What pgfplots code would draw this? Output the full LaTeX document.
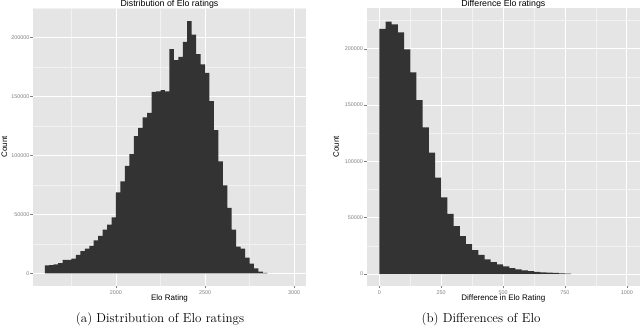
\documentclass[border=0pt]{standalone}
\usepackage{pgfplots}
\pgfplotsset{compat=1.18}
\usepackage{fontspec}
\newfontfamily\chartfont{Liberation Sans}
\definecolor{ggbg}{HTML}{E5E5E5}
\definecolor{ggminor}{HTML}{F2F2F2}
\definecolor{ggbar}{HTML}{333333}
\definecolor{ggtext}{HTML}{7F7F7F}
\pgfplotsset{
  every axis title/.style={at={(axis description cs:0.5,1)}, anchor=base, yshift=1.5pt, font=\chartfont\fontsize{8.8}{10}\selectfont},
  ggstyle/.style={
    scale only axis,
    anchor=south west,
    axis background/.style={fill=ggbg},
    axis line style={draw=none},
    tick align=outside,
    xtick pos=left, ytick pos=left,
    major tick length=2.5pt,
    minor tick length=0pt,
    tick style={color=ggtext, line width=0.5pt},
    grid=both,
    major grid style={white, line width=0.9pt},
    minor grid style={ggminor, line width=0.45pt},
    scaled y ticks=false, scaled x ticks=false,
    /pgf/number format/fixed,
    /pgf/number format/precision=0,
    /pgf/number format/1000 sep={},
    /pgf/number format/assume math mode=true,
    ticklabel style={font=\chartfont\fontsize{5.4}{6}\selectfont, color=ggtext, inner sep=1pt},
    xticklabel style={yshift=-0.8pt},
    xlabel style={font=\chartfont\fontsize{8}{9}\selectfont, at={(axis description cs:0.5,0)}, anchor=center, yshift=-12.5pt},
    ylabel style={font=\chartfont\fontsize{8}{9}\selectfont, anchor=center},
  }
}
\pgfplotstableread{
x y
1600 6600
1625 6800
1650 7600
1675 8500
1700 11300
1725 11300
1750 12500
1775 15500
1800 18800
1825 21000
1850 23300
1875 27800
1900 31800
1925 37000
1950 41300
1975 47400
2000 68600
2025 78000
2050 91000
2075 101000
2100 116300
2125 123400
2150 132200
2175 136100
2200 153900
2225 154200
2250 155300
2275 154200
2300 190100
2325 180800
2350 183600
2375 196300
2400 213800
2425 202500
2450 185900
2475 177100
2500 170000
2525 146000
2550 121400
2575 95000
2600 74500
2625 55400
2650 37000
2675 22600
2700 20800
2725 13300
2750 8200
2775 4200
2800 1400
2825 300
2850 0
}\elotable
\pgfplotstableread{
x y
0 217600
25 224000
50 221700
75 214600
100 199500
125 179100
150 154500
175 130300
200 107700
225 85500
250 68100
275 53300
300 42600
325 33700
350 26600
375 21300
400 16900
425 13000
450 10600
475 8500
500 6700
525 5200
550 4100
575 3200
600 2500
625 1900
650 1500
675 1200
700 900
725 600
750 400
775 0
}\difftable
\begin{document}
\begin{tikzpicture}
\useasboundingbox (0,0) rectangle (640pt,334pt);
\begin{axis}[ggstyle,
  at={(33pt,48pt)}, width=273pt, height=278pt,
  xmin=1534, xmax=3067, ymin=-10800, ymax=225000,
  xtick={2000,2500,3000}, minor xtick={1750,2250,2750},
  ytick={0,50000,100000,150000,200000},
  minor ytick={25000,75000,125000,175000,225000},
  title={Distribution of Elo ratings},
  xlabel={Elo Rating}, ylabel={Count},
  ylabel style={at={(axis description cs:-0.105,0.5)}},
]
\addplot[ybar interval, fill=ggbar, draw=none] table[x=x,y=y] {\elotable};
\end{axis}
\begin{axis}[ggstyle,
  at={(366.7pt,48pt)}, width=273.3pt, height=278pt,
  xmin=-51, xmax=1053, ymin=-10650, ymax=236200,
  xtick={0,250,500,750,1000}, minor xtick={125,375,625,875},
  ytick={0,50000,100000,150000,200000},
  minor ytick={25000,75000,125000,175000,225000},
  title={Difference Elo ratings},
  xlabel={Difference in Elo Rating}, ylabel={Count},
  ylabel style={at={(axis description cs:-0.112,0.5)}},
]
\addplot[ybar interval, fill=ggbar, draw=none] table[x=x,y=y] {\difftable};
\end{axis}
\node[anchor=base, font=\fontsize{13}{16}\selectfont] at (160pt,11pt) {(a) Distribution of Elo ratings};
\node[anchor=base, font=\fontsize{13}{16}\selectfont] at (481pt,11pt) {(b) Differences of Elo};
\end{tikzpicture}
\end{document}
